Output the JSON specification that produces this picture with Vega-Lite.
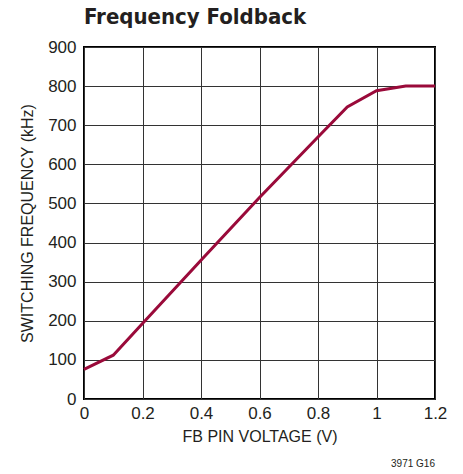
{
  "$schema": "https://vega.github.io/schema/vega-lite/v6.json",
  "width": 351,
  "height": 352,
  "autosize": "none",
  "padding": {"left": 84, "top": 47, "right": 28, "bottom": 75},
  "background": "white",
  "title": {"text": "Frequency Foldback", "anchor": "start", "frame": "group", "font": "DejaVu Sans Condensed", "fontSize": 22, "fontWeight": "bold", "color": "#231f20", "offset": 9},
  "config": {
    "view": {"stroke": "black", "strokeWidth": 2},
    "axis": {"labelFont": "Liberation Sans", "titleFont": "Liberation Sans", "labelFontSize": 17, "titleFontSize": 16, "titleFontWeight": "normal", "labelColor": "#231f20", "titleColor": "#231f20", "gridColor": "#333333", "gridOpacity": 1, "gridWidth": 1, "ticks": false, "domain": false, "labelOverlap": false}
  },
  "layer": [
    {
      "data": {"values": [
        {"v": 0, "f": 76},
        {"v": 0.1, "f": 112},
        {"v": 0.2, "f": 193},
        {"v": 0.4, "f": 355},
        {"v": 0.6, "f": 515},
        {"v": 0.8, "f": 670},
        {"v": 0.9, "f": 747},
        {"v": 1.0, "f": 788},
        {"v": 1.1, "f": 800},
        {"v": 1.2, "f": 800}
      ]},
      "mark": {"type": "line", "color": "#9a0a3a", "strokeWidth": 3},
      "encoding": {
        "x": {"field": "v", "type": "quantitative", "scale": {"domain": [0, 1.2], "nice": false}, "axis": {"values": [0, 0.2, 0.4, 0.6, 0.8, 1, 1.2], "format": "~g", "labelPadding": 6, "title": "FB PIN VOLTAGE (V)", "titlePadding": 7, "labelFlush": false}},
        "y": {"field": "f", "type": "quantitative", "scale": {"domain": [0, 900], "nice": false}, "axis": {"values": [0,100,200,300,400,500,600,700,800,900], "labelPadding": 8, "title": "SWITCHING FREQUENCY (kHz)", "titlePadding": 12, "labelFlush": false}}
      }
    },
    {
      "data": {"values": [{"v": 1.2, "label": "3971 G16"}]},
      "mark": {"type": "text", "align": "right", "baseline": "middle", "font": "Liberation Sans", "fontSize": 10, "color": "#231f20"},
      "encoding": {
        "x": {"field": "v", "type": "quantitative", "scale": {"domain": [0, 1.2], "nice": false}, "axis": {"values": [0, 0.2, 0.4, 0.6, 0.8, 1, 1.2], "format": "~g", "labelPadding": 6, "title": "FB PIN VOLTAGE (V)", "titlePadding": 7, "labelFlush": false}},
        "y": {"datum": -165, "type": "quantitative", "scale": {"domain": [0, 900], "nice": false}, "axis": {"values": [0,100,200,300,400,500,600,700,800,900], "labelPadding": 8, "title": "SWITCHING FREQUENCY (kHz)", "titlePadding": 12, "labelFlush": false}},
        "text": {"field": "label"}
      }
    }
  ]
}
